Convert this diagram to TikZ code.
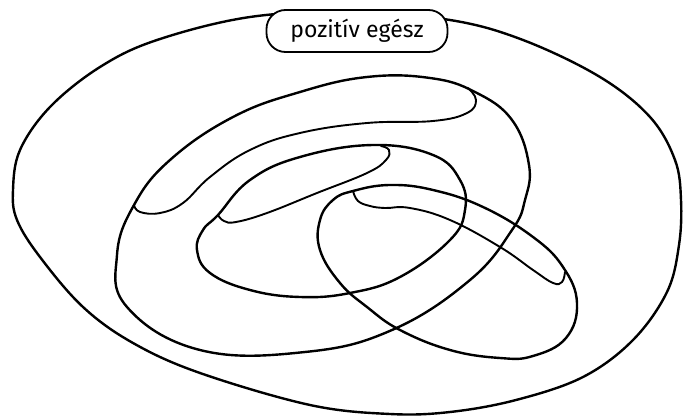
\documentclass[tikz,border=0pt]{standalone}
\usepackage{fontspec}
\setmainfont{Fira Sans}
\begin{document}
\begin{tikzpicture}[x=1pt,y=-1pt,
  setline/.style={line width=2.4pt, line join=round, line cap=round},
  tongue/.style={line width=1.9pt, line cap=round},
  labelbox/.style={draw, line width=1.8pt, fill=white, rounded corners=19pt,
    minimum width=181pt, minimum height=42pt, inner sep=0pt,
    font=\fontsize{23}{24}\selectfont}]
\useasboundingbox (0,0) rectangle (683,417);
% outer set
\draw[setline] plot[smooth cycle, tension=0.6] coordinates {
 (13,190) (20,150) (50,107) (100,67) (157,40) (250,17) (350,12) (450,20)
 (523,40) (600,77) (650,117) (675,160) (681,200) (679,245) (667,292)
 (633,340) (583,377) (516,400) (450,412) (390,414) (310,405) (200,373)
 (133,343) (83,307) (40,257) (17,220)};
% set A
\draw[setline] plot[smooth cycle, tension=0.7] coordinates {
 (134,205) (170,160) (233,117) (300,92) (367,77) (430,78) (475,92) (512,120)
 (529,165) (525,200) (512,230) (470,280) (392,330) (305,352) (200,350)
 (127,307) (117,255)};
\draw[tongue] plot[smooth, tension=0.7] coordinates {
 (134,205) (140,212) (160,213) (183,203) (210,177) (250,150) (300,133)
 (367,123) (433,121) (467,113) (476,100) (468,88)};
% set C
\draw[setline] plot[smooth cycle, tension=0.7] coordinates {
 (218,215) (250,180) (300,157) (373,145) (433,155) (460,180) (465,210)
 (450,240) (400,277) (350,293) (300,297) (250,290) (210,273) (197,250) (203,230)};
\draw[tongue] plot[smooth, tension=0.7] coordinates {
 (218,215) (224,221) (236,222) (267,213) (317,193) (367,173) (386,160)
 (389,150) (381,146)};
% set D
\draw[setline] plot[smooth cycle, tension=0.7] coordinates {
 (353,191) (390,185) (433,190) (483,207) (533,237) (563,267) (577,303)
 (566,338) (533,356) (500,358) (450,350) (400,330) (367,307) (340,283)
 (320,250) (320,220) (333,200)};
\draw[tongue] plot[smooth, tension=0.7] coordinates {
 (353,191) (358,201) (370,206) (385,208) (410,208) (450,220) (500,247)
 (533,270) (553,283) (562,282) (565,272)};
% label
\node[labelbox] (lab) at (357,31) {pozitív egész};
\end{tikzpicture}
\end{document}
